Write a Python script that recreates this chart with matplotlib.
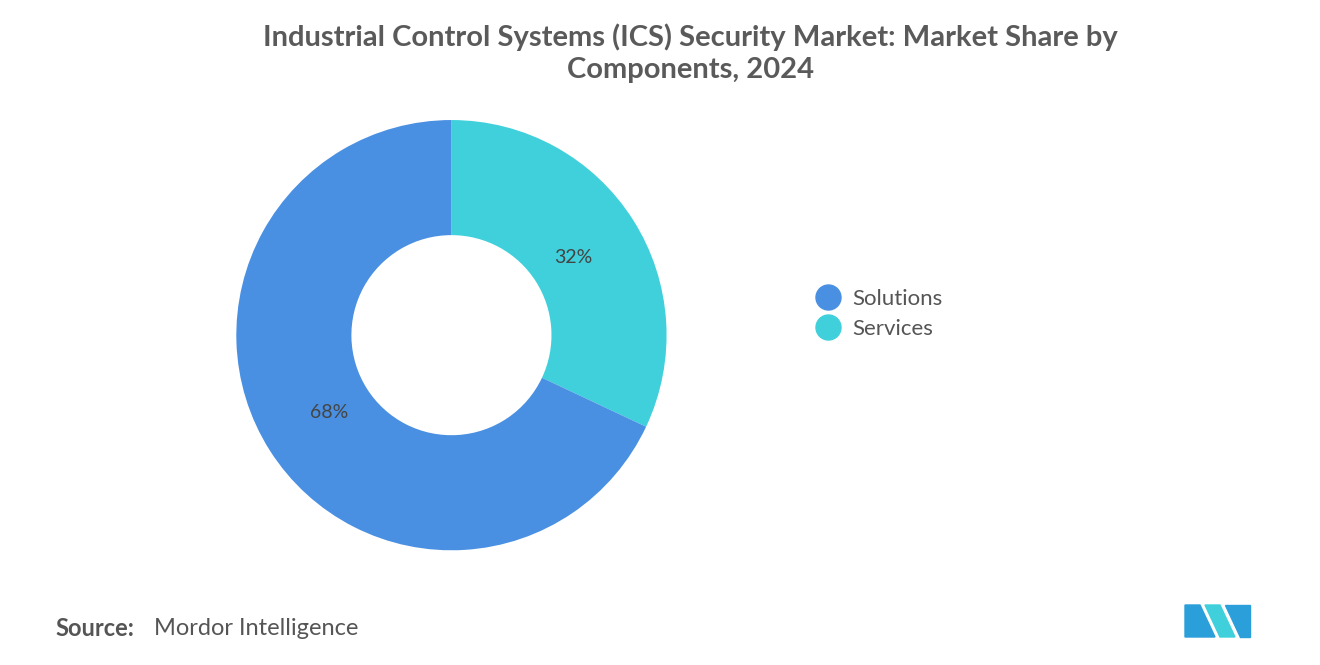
import matplotlib
matplotlib.use("Agg")
from matplotlib import pyplot as plt
from matplotlib.lines import Line2D
from matplotlib.patches import Polygon

labels = ["Solutions", "Services"]
shares = [68, 32]
colors = ["#4A90E2", "#40D0DB"]

plt.rcParams["font.family"] = "Lato"

fig = plt.figure(figsize=(13.2, 6.65), dpi=100)
fig.patch.set_facecolor("white")

fig.text(0.523, 0.965, "Industrial Control Systems (ICS) Security Market: Market Share by\nComponents, 2024",
         ha="center", va="top", fontsize=21, fontweight="bold", color="#5a5a5a", linespacing=1.3)

ax = fig.add_axes([0.342 - 0.163, 0.496 - 0.3235, 0.326, 0.647])
ax.pie(shares[::-1], colors=colors[::-1], startangle=90, counterclock=False,
       wedgeprops=dict(width=0.535, edgecolor="none"))
ax.set_xlim(-1, 1)
ax.set_ylim(-1, 1)
ax.set_aspect("equal")

# percentage labels
ax.text(0.565, 0.36, f"{shares[1]}%", ha="center", va="center", fontsize=14, color="#444444")
ax.text(-0.57, -0.36, f"{shares[0]}%", ha="center", va="center", fontsize=14, color="#444444")

handles = [Line2D([], [], marker="o", linestyle="", markersize=18, color=c) for c in colors]
fig.legend(handles, labels, loc="center left", bbox_to_anchor=(0.595, 0.528), frameon=False,
           fontsize=16, labelcolor="#555555", handletextpad=0.1, labelspacing=0.45)

fig.text(0.042, 0.055, "Source:", fontsize=17, fontweight="bold", color="#555555", va="center")
fig.text(0.117, 0.055, "Mordor Intelligence", fontsize=17, color="#555555", va="center")

# simple logo
W, H = 1320, 665
def px(pts):
    return [(x / W, 1 - y / H) for x, y in pts]
for poly, col in [
    ([(1185, 637), (1185, 605), (1200, 605), (1215, 637)], "#2B9FD9"),
    ([(1205, 605), (1220, 605), (1235, 637), (1220, 637)], "#40D0DB"),
    ([(1225, 605), (1250, 605), (1250, 637), (1240, 637)], "#2B9FD9"),
]:
    fig.patches.append(Polygon(px(poly), closed=True, transform=fig.transFigure, color=col))

fig.savefig("out.png", dpi=100)
